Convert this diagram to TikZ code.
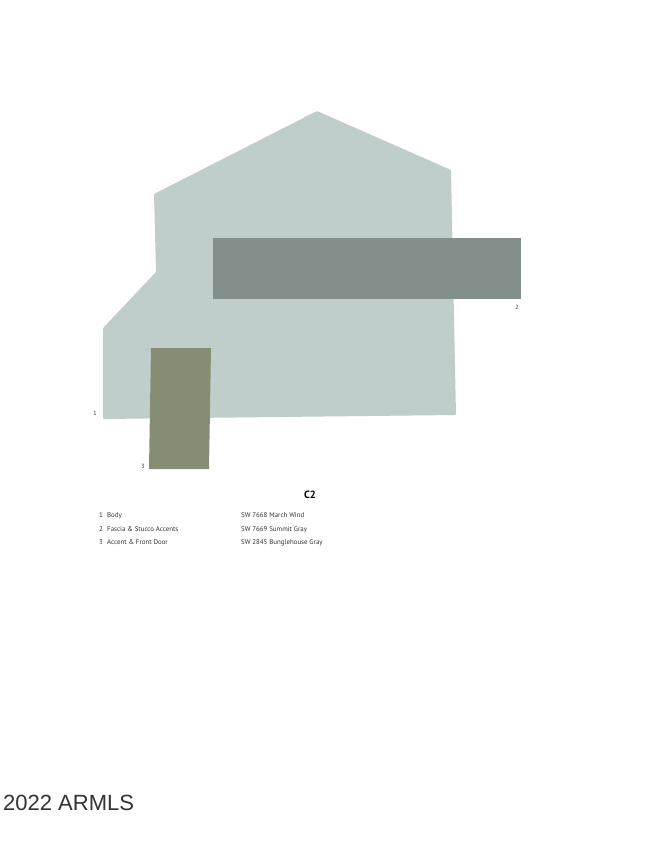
\documentclass[tikz,border=0pt]{standalone}
\usepackage{fontspec}
\setmainfont{PT Sans}
\newfontfamily\markfont{Liberation Sans}
\usetikzlibrary{positioning}
\definecolor{marchwind}{HTML}{BFCECA}
\definecolor{summitgray}{HTML}{838F8B}
\definecolor{bunglegray}{HTML}{858E74}

\begin{document}
\begin{tikzpicture}[x=1pt, y=-1pt, node distance=1pt]
    \tikzset{
        swatch/.style = {rounded corners=1pt},
        tag/.style = {font=\fontsize{6}{7}\selectfont, inner sep=0pt, text=black!80},
        legend/.style = {font=\fontsize{6.9}{8}\selectfont, inner sep=0pt, anchor=base west, text=black!80}
    }
    \useasboundingbox[fill=white] (0,0) rectangle (650,841);

    % body of the house
    \fill[swatch, marchwind] (317,111) -- (451,170) -- (456,415) -- (103,419) -- (103,328)
        -- (156,272) -- (154,194) -- cycle;
    % fascia band
    \fill[summitgray] (213,238) rectangle (521,299);
    % front door
    \fill[bunglegray] (151,348) -- (211,348) -- (209,469) -- (149,469) -- cycle;

    \node (tag1) [tag] at (95,413) {1};
    \node (tag2) [tag] at (517,307) {2};
    \node (tag3) [tag] at (143,466) {3};

    \node (title) [font=\bfseries\fontsize{10.5}{12}\selectfont, inner sep=0pt] at (310,495) {C2};

    \node (num1) [legend] at (99,517) {1};
    \node (num2) [legend] at (99,531.5) {2};
    \node (num3) [legend] at (99,544) {3};
    \node (part1) [legend] at (107,517) {Body};
    \node (part2) [legend] at (107,531.5) {Fascia \& Stucco Accents};
    \node (part3) [legend] at (107,544) {Accent \& Front Door};
    \node (paint1) [legend] at (241,517) {SW 7668 March Wind};
    \node (paint2) [legend] at (241,531.5) {SW 7669 Summit Gray};
    \node (paint3) [legend] at (241,544) {SW 2845 Bunglehouse Gray};

    \node (mark) [font=\markfont\fontsize{22}{24}\selectfont, inner sep=0pt, anchor=west, text=black!80] at (3,803) {2022 ARMLS};
\end{tikzpicture}
\end{document}
